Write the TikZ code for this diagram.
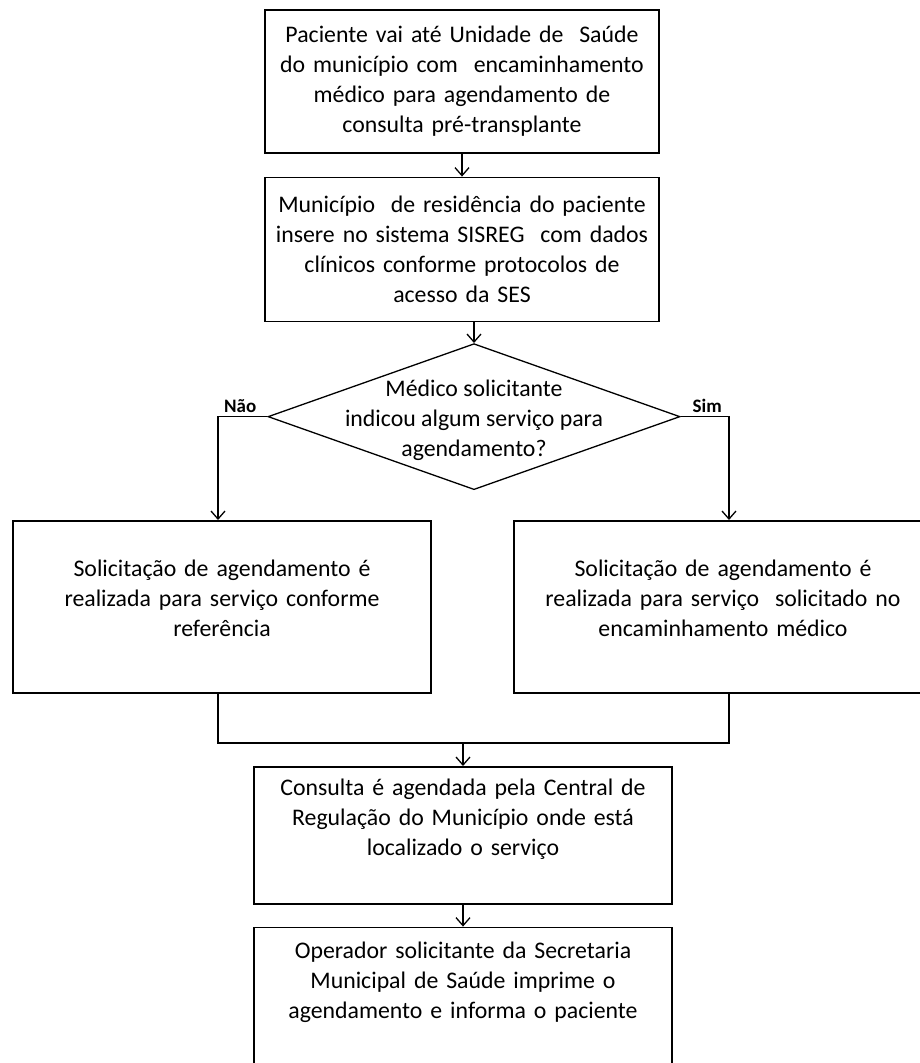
\documentclass[tikz,border=0pt]{standalone}
\usepackage{fontspec}
\setmainfont{Carlito}
\usetikzlibrary{positioning,arrows.meta,shapes.geometric}

\begin{document}
\begin{tikzpicture}[
x=1pt, y=1pt,
node distance=23pt,
box/.style={draw, line width=1.6pt, minimum width=394pt, minimum height=143pt, inner sep=0pt, align=center, text width=385pt, font=\fontsize{23.8}{30}\selectfont},
sidebox/.style={box, minimum width=418pt, minimum height=172pt, text width=405pt, text depth=77pt},
endbox/.style={box, minimum width=418pt, text width=405pt},
arrow/.style={-{Straight Barb[length=8pt, width=14pt]}, line width=1.3pt},
link/.style={line width=1.3pt},
answer/.style={font=\fontsize{19}{22}\selectfont\bfseries, inner sep=3pt}
]
\useasboundingbox (0,0) rectangle (920,-1063);
\node[box, anchor=north] (visit) at (462,-9) {Paciente vai até Unidade de \ Saúde\\do município com \ encaminhamento\\médico para agendamento de\\consulta pré-transplante};
\node[box, below=of visit, minimum height=144pt] (sisreg) {Município \ de residência do paciente\\insere no sistema SISREG \ com dados\\clínicos conforme protocolos de\\acesso da SES};
\node[diamond, draw, line width=1.3pt, minimum width=412pt, minimum height=146pt, inner sep=0pt, anchor=north] (ask) at (474,-343) {};
\node[align=center, font=\fontsize{23.8}{30}\selectfont] (askt) at ([yshift=-4pt]ask.center) {Médico solicitante\\indicou algum serviço para\\agendamento?};
\node[sidebox, anchor=north] (ref) at (222,-520) {Solicitação de agendamento é\\realizada para serviço conforme\\referência};
\node[sidebox, anchor=north] (req) at (723,-520) {Solicitação de agendamento é\\realizada para serviço \ solicitado no\\encaminhamento médico};
\node[endbox, anchor=north, minimum height=137pt, text depth=96pt] (sched) at (463,-766) {Consulta é agendada pela Central de\\Regulação do Município onde está\\localizado o serviço};
\node[endbox, below=22pt of sched, minimum height=150pt, text depth=105pt] (notify) {Operador solicitante da Secretaria\\Municipal de Saúde imprime o\\agendamento e informa o paciente};
\coordinate (join) at (463,-743);
\coordinate (noin) at ([xshift=-4pt]ref.north);
\coordinate (yesin) at ([xshift=6pt]req.north);

\draw[arrow] (visit) -- (sisreg);
\draw[arrow] (sisreg.south -| ask.north) -- (ask.north);
\draw[arrow] (ask.west) -- node[answer, above, pos=0.55] (no) {Não} (ask.west -| noin) -- (noin);
\draw[arrow] (ask.east) -- node[answer, above, pos=0.55] (yes) {Sim} (ask.east -| yesin) -- (yesin);
\draw[link] (ref.south -| noin) |- (join) -| (req.south -| yesin);
\draw[arrow] (join) -- (sched.north);
\draw[arrow] (sched) -- (notify);
\end{tikzpicture}
\end{document}
